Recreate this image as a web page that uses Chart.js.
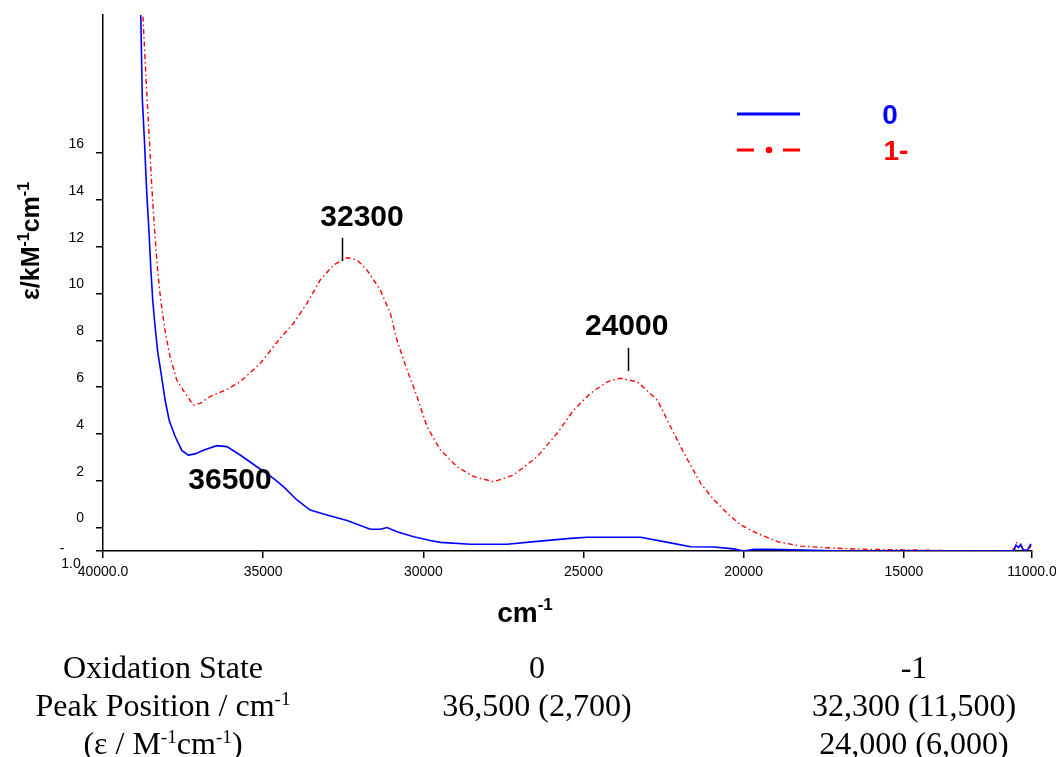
<!DOCTYPE html>
<html>
<head>
<meta charset="utf-8">
<script src="https://cdn.jsdelivr.net/npm/chart.js@4.4.1/dist/chart.umd.min.js"></script>
<style>
    html, body { margin: 0; padding: 0; background: #fff; }
    #marco { position: relative; width: 1056px; height: 757px; overflow: hidden; }
    #grafico { position: absolute; left: 0; top: 0; }
    .celda {
        position: absolute;
        font-family: "Liberation Serif", "Times New Roman", serif;
        font-size: 32px;
        line-height: 1;
        color: #000;
        white-space: nowrap;
        transform: translate(-50%, -50%);
    }
    .celda sup { font-size: 0.6em; vertical-align: 0.55em; line-height: 0; }
</style>
</head>
<body>
<div id="marco">
    <canvas id="grafico" width="1056" height="757"></canvas>
</div>
<script>
// estado de oxidacion 0 (azul)
const ondaAzul = [38900, 38822, 38772, 38709, 38634, 38562, 38509, 38447, 38375, 38291, 38187, 38062, 37937, 37750, 37541, 37334, 37125, 36866, 36447, 36134, 35719, 35197, 34678, 34366, 33947, 33531, 33010, 32384, 31656, 31344, 31134, 30822, 30302, 29781, 29469, 28531, 27384, 26447, 25406, 24884, 23219, 22491, 21656, 20928, 20312, 20000, 19687, 19156, 18125, 16875, 12000, 11560, 11500, 11420, 11350, 11280, 11150, 11080, 11030];
const epsAzul = [25.0, 22.0, 18.3, 16.6, 14.3, 12.6, 11.1, 9.7, 8.6, 7.5, 6.6, 5.45, 4.6, 3.9, 3.3, 3.1, 3.15, 3.3, 3.5, 3.46, 3.1, 2.6, 2.1, 1.75, 1.18, 0.75, 0.54, 0.30, -0.07, -0.07, 0.0, -0.18, -0.39, -0.55, -0.63, -0.71, -0.71, -0.59, -0.46, -0.41, -0.41, -0.60, -0.82, -0.83, -0.91, -1.0, -0.93, -0.93, -0.96, -1.0, -1.0, -0.98, -0.75, -0.85, -0.72, -0.95, -0.98, -0.8, -0.7];

// estado de oxidacion 1- (rojo)
const ondaRoja = [38800, 38760, 38634, 38553, 38478, 38397, 38303, 38197, 38062, 37906, 37697, 37437, 37178, 36969, 36656, 36134, 35719, 35100, 34469, 34053, 33634, 33219, 32803, 32384, 32072, 31759, 31344, 31031, 30822, 30509, 30197, 29884, 29469, 28947, 28428, 27803, 27178, 26447, 25822, 25303, 24781, 24259, 23844, 23322, 22697, 22281, 21866, 21344, 20928, 20509, 20094, 19572, 18947, 18219, 17178, 16134, 14572, 13009, 11700, 11560, 11480, 11400, 11330, 11250, 11100, 11030];
const epsRoja = [24.5, 22.0, 18.6, 16.6, 14.6, 12.85, 11.1, 9.7, 8.4, 7.3, 6.3, 5.74, 5.24, 5.31, 5.6, 5.9, 6.23, 7.0, 8.09, 8.73, 9.58, 10.58, 11.22, 11.53, 11.44, 11.0, 10.15, 9.16, 8.0, 6.74, 5.6, 4.31, 3.32, 2.6, 2.18, 1.96, 2.25, 3.03, 4.03, 5.03, 5.74, 6.23, 6.38, 6.23, 5.45, 4.31, 3.18, 1.89, 1.18, 0.61, 0.11, -0.25, -0.60, -0.79, -0.88, -0.93, -0.96, -1.0, -1.0, -0.9, -0.65, -0.7, -0.8, -0.95, -0.95, -0.75];

const series = ['0', '1-'];
const xTicks = [40000, 35000, 30000, 25000, 20000, 15000, 11000];
const xTickLabels = ['40000.0', '35000', '30000', '25000', '20000', '15000', '11000.0'];
const yTicks = [-1, 0, 2, 4, 6, 8, 10, 12, 14, 16];
const yTickLabels = ['-1.0', '0', '2', '4', '6', '8', '10', '12', '14', '16'];
const picos = ['32300', '24000', '36500'];

const filasTabla = ['Oxidation State', 'Peak Position / cm<sup>-1</sup>', '(\u03b5 / M<sup>-1</sup>cm<sup>-1</sup>)'];
const columnaCero = ['0', '36,500 (2,700)', ''];
const columnaMenosUno = ['-1', '32,300 (11,500)', '24,000 (6,000)'];

const AZUL = '#0000ff';
const ROJO = '#ff0000';

// texto con superindices: partes = [[texto, esSuper], ...]
function textoConSuper(ctx, partes, x, y, tam, color) {
    const fuente = t => `bold ${t}px "Liberation Sans", Arial, sans-serif`;
    const tamSup = Math.round(tam * 0.62);
    let ancho = 0;
    partes.forEach(p => {
        ctx.font = fuente(p[1] ? tamSup : tam);
        ancho += ctx.measureText(p[0]).width;
    });
    let cx = x - ancho / 2;
    const base = y + tam * 0.36;
    ctx.fillStyle = color;
    ctx.textAlign = 'left';
    ctx.textBaseline = 'alphabetic';
    partes.forEach(p => {
        ctx.font = fuente(p[1] ? tamSup : tam);
        ctx.fillText(p[0], cx, p[1] ? base - tam * 0.42 : base);
        cx += ctx.measureText(p[0]).width;
    });
}

const anotaciones = {
    id: 'anotaciones',
    afterDraw(chart) {
        const ctx = chart.ctx;
        const xs = chart.scales.x;
        const ys = chart.scales.y;
        ctx.save();

        // etiqueta rara del -1.0
        ctx.fillStyle = '#000';
        ctx.font = '14px "Liberation Sans", Arial, sans-serif';
        ctx.textAlign = 'center';
        ctx.textBaseline = 'middle';
        const partesMenos = [yTickLabels[0].charAt(0), yTickLabels[0].slice(1)];
        ctx.fillText(partesMenos[0], 62, 549);
        ctx.fillText(partesMenos[1], 71, 564);

        // titulos de ejes
        ctx.save();
        ctx.translate(30, 241);
        ctx.rotate(-Math.PI / 2);
        textoConSuper(ctx, [['\u03b5/kM', 0], ['-1', 1], ['cm', 0], ['-1', 1]], 0, 0, 25, '#000');
        ctx.restore();
        textoConSuper(ctx, [['cm', 0], ['-1', 1]], 525, 612, 28, '#000');

        // picos
        const posPicos = [
            { tx: 31914, ty: 13.36, mx: 32548, m1: 12.38, m2: 11.39 },
            { tx: 23652, ty: 8.70, mx: 23600, m1: 7.68, m2: 6.69 },
            { tx: 36035, ty: 2.12 }
        ];
        posPicos.forEach((p, i) => {
            textoConSuper(ctx, [[picos[i], 0]], xs.getPixelForValue(p.tx), ys.getPixelForValue(p.ty), 30, '#000');
            if (p.mx) {
                const px = Math.round(xs.getPixelForValue(p.mx)) + 0.5;
                ctx.strokeStyle = '#000';
                ctx.lineWidth = 1.5;
                ctx.beginPath();
                ctx.moveTo(px, ys.getPixelForValue(p.m1));
                ctx.lineTo(px, ys.getPixelForValue(p.m2));
                ctx.stroke();
            }
        });

        // leyenda
        ctx.lineWidth = 3;
        ctx.strokeStyle = AZUL;
        ctx.beginPath();
        ctx.moveTo(737, 114);
        ctx.lineTo(800, 114);
        ctx.stroke();
        ctx.strokeStyle = ROJO;
        ctx.beginPath();
        ctx.moveTo(737, 150);
        ctx.lineTo(754, 150);
        ctx.moveTo(783, 150);
        ctx.lineTo(800, 150);
        ctx.stroke();
        ctx.fillStyle = ROJO;
        ctx.beginPath();
        ctx.arc(769, 150, 3.3, 0, Math.PI * 2);
        ctx.fill();
        textoConSuper(ctx, [[series[0], 0]], 890, 114, 28, AZUL);
        textoConSuper(ctx, [[series[1], 0]], 896, 150, 28, ROJO);

        ctx.restore();
    }
};

const ejeComun = {
    grid: { display: true, drawOnChartArea: false, drawTicks: true, tickLength: 7, color: '#000', lineWidth: 1.5 },
    border: { display: true, color: '#000', width: 1.5 }
};

new Chart(document.getElementById('grafico'), {
    type: 'line',
    data: {
        datasets: [
            {
                label: series[0],
                data: ondaAzul.map((x, i) => ({ x: x, y: epsAzul[i] })),
                borderColor: AZUL,
                borderWidth: 1.6,
                pointRadius: 0,
                tension: 0,
                fill: false
            },
            {
                label: series[1],
                data: ondaRoja.map((x, i) => ({ x: x, y: epsRoja[i] })),
                borderColor: ROJO,
                borderWidth: 1.4,
                borderDash: [5, 3, 1.5, 3],
                pointRadius: 0,
                tension: 0,
                fill: false
            }
        ]
    },
    options: {
        responsive: false,
        animation: false,
        devicePixelRatio: 1,
        layout: { padding: { left: 0, top: 15, right: 24, bottom: 0 } },
        plugins: { legend: { display: false }, tooltip: { enabled: false } },
        scales: {
            x: {
                ...ejeComun,
                type: 'linear',
                reverse: true,
                min: 11000,
                max: 40000,
                afterBuildTicks: s => { s.ticks = xTicks.map(v => ({ value: v })); },
                afterFit: s => { s.height = 206; s.paddingLeft = 0; s.paddingRight = 0; },
                ticks: {
                    color: '#000',
                    font: { family: '"Liberation Sans", Arial, sans-serif', size: 14 },
                    padding: 6,
                    maxRotation: 0,
                    autoSkip: false,
                    callback: v => xTickLabels[xTicks.indexOf(v)] ?? ''
                }
            },
            y: {
                ...ejeComun,
                type: 'linear',
                min: -1,
                max: 21.9,
                afterBuildTicks: s => { s.ticks = yTicks.map(v => ({ value: v })); },
                afterFit: s => { s.width = 103; s.paddingTop = 0; s.paddingBottom = 0; },
                ticks: {
                    color: '#000',
                    font: { family: '"Liberation Sans", Arial, sans-serif', size: 14 },
                    padding: 12,
                    labelOffset: -9,
                    autoSkip: false,
                    callback: v => v === -1 ? '' : yTickLabels[yTicks.indexOf(v)]
                }
            }
        }
    },
    plugins: [anotaciones]
});

// tabla de abajo
const marco = document.getElementById('marco');
const columnasX = [163, 537, 914];
const filasY = [667, 705, 743];
filasTabla.forEach((texto, i) => {
    [texto, columnaCero[i], columnaMenosUno[i]].forEach((t, j) => {
        if (!t) return;
        const celda = document.createElement('div');
        celda.className = 'celda';
        celda.innerHTML = t;
        celda.style.left = columnasX[j] + 'px';
        celda.style.top = filasY[i] + 'px';
        marco.appendChild(celda);
    });
});
</script>
</body>
</html>
